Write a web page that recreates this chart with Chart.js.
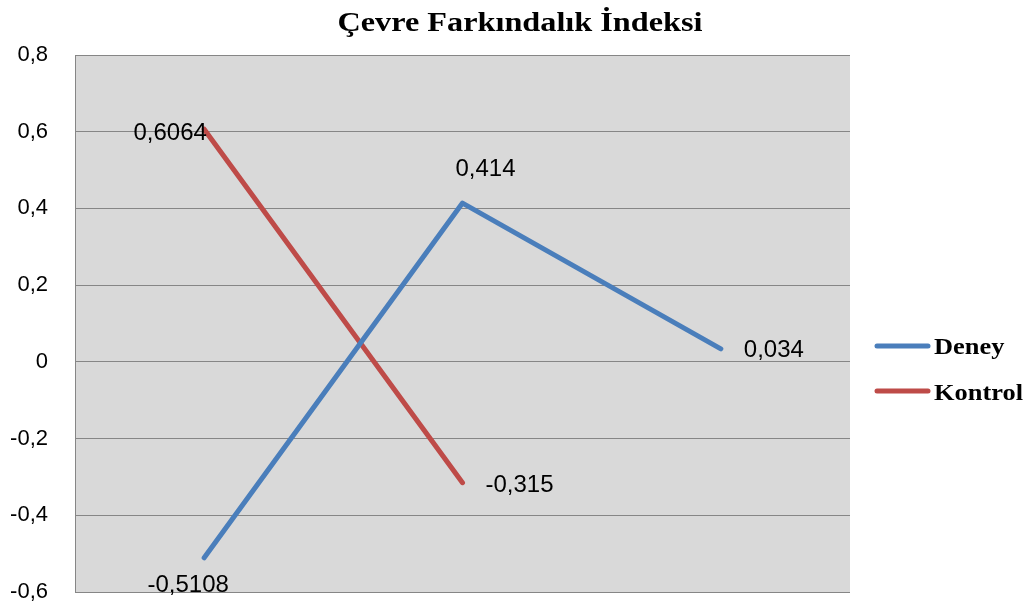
<!DOCTYPE html>
<html><head><meta charset="utf-8">
<script src="https://cdn.jsdelivr.net/npm/chart.js@4/dist/chart.umd.min.js"></script>
<style>html,body{margin:0;padding:0;background:#fff}#wrap{width:1030px;height:607px}</style>
</head><body><div id="wrap"><canvas id="c" width="1030" height="607"></canvas></div>
<script>
const categories = ["1", "2", "3"];
const deney = [-0.5108, 0.414, 0.034];
const kontrol = [0.6064, -0.315, null];
const seriesNames = ["Deney", "Kontrol"];
const yTicks = [-0.6, -0.4, -0.2, 0, 0.2, 0.4, 0.6, 0.8];
const titleText = "Çevre Farkındalık İndeksi";

const colors = ["#4a7ebb", "#be4b48"];
const labelOffsets = [
  [[-16, 28], [23, -34], [53, 2]],
  [[-34, 4], [57, 3], [0, 0]]
];
const fmt = v => String(v).replace('.', ',');

const bgPlugin = {
  id: 'bg',
  beforeDraw(chart) {
    const {ctx, chartArea: a} = chart;
    ctx.save();
    ctx.fillStyle = '#d9d9d9';
    ctx.fillRect(a.left, a.top, a.right - a.left, a.bottom - a.top);
    ctx.restore();
  }
};
const titlePlugin = {
  id: 'ttl',
  afterDraw(chart) {
    const ctx = chart.ctx;
    ctx.save();
    ctx.font = 'bold 28px "Liberation Serif", "Times New Roman", serif';
    ctx.fillStyle = '#000';
    ctx.textAlign = 'center';
    ctx.textBaseline = 'alphabetic';
    const w = ctx.measureText(titleText).width;
    const sx = 365 / w;
    ctx.translate(520, 31);
    ctx.scale(sx, 1);
    ctx.fillText(titleText, 0, 0);
    ctx.restore();
  }
};
const labelPlugin = {
  id: 'lbls',
  afterDatasetsDraw(chart) {
    const ctx = chart.ctx;
    ctx.save();
    ctx.font = '24px "Liberation Sans", Arial, sans-serif';
    ctx.fillStyle = '#000';
    ctx.textAlign = 'center';
    ctx.textBaseline = 'middle';
    chart.data.datasets.forEach((ds, di) => {
      const meta = chart.getDatasetMeta(di);
      meta.data.forEach((pt, i) => {
        const v = ds.data[i];
        if (v === null || v === undefined) return;
        const o = labelOffsets[di][i];
        ctx.fillText(fmt(v), pt.x + o[0], pt.y + o[1]);
      });
    });
    ctx.restore();
  }
};
const legendPlugin = {
  id: 'lgd',
  afterDraw(chart) {
    const ctx = chart.ctx;
    ctx.save();
    const lineYs = [346, 391];
    const textYs = [354, 400];
    chart.data.datasets.forEach((ds, i) => {
      ctx.strokeStyle = ds.borderColor;
      ctx.lineWidth = 5;
      ctx.lineCap = 'round';
      ctx.beginPath();
      ctx.moveTo(877, lineYs[i]);
      ctx.lineTo(928, lineYs[i]);
      ctx.stroke();
      ctx.save();
      ctx.fillStyle = '#000';
      ctx.font = 'bold 24px "Liberation Serif", "Times New Roman", serif';
      ctx.textAlign = 'left';
      ctx.textBaseline = 'alphabetic';
      ctx.translate(934, textYs[i]);
      ctx.scale(1.1, 1);
      ctx.fillText(ds.label, 0, 0);
      ctx.restore();
    });
    ctx.restore();
  }
};

new Chart(document.getElementById('c'), {
  type: 'line',
  data: {
    labels: categories,
    datasets: [
      {label: seriesNames[0], data: deney, borderColor: colors[0], backgroundColor: colors[0], borderWidth: 5, pointRadius: 0, borderCapStyle: 'round', borderJoinStyle: 'round', tension: 0, spanGaps: false},
      {label: seriesNames[1], data: kontrol, borderColor: colors[1], backgroundColor: colors[1], borderWidth: 5, pointRadius: 0, borderCapStyle: 'round', borderJoinStyle: 'round', tension: 0, spanGaps: false}
    ]
  },
  options: {
    responsive: false,
    animation: false,
    devicePixelRatio: 1,
    layout: {padding: {left: 0, right: 180, top: 55, bottom: 15}},
    plugins: {
      legend: {display: false},
      tooltip: {enabled: false},
      title: {display: false}
    },
    scales: {
      x: {
        display: false,
        offset: true
      },
      y: {
        min: -0.6, max: 0.8,
        afterFit(scale) { scale.width = 75; scale.paddingTop = 0; scale.paddingBottom = 0; },
        afterBuildTicks(scale) { scale.ticks = yTicks.map(v => ({value: v})); },
        grid: {color: '#868686', lineWidth: 1, drawTicks: false},
        border: {display: true, color: '#868686', width: 1},
        ticks: {
          padding: 27, color: '#000',
          font: {family: '"Liberation Sans", Arial, sans-serif', size: 22},
          callback: v => fmt(Math.round(v * 10) / 10)
        }
      }
    }
  },
  plugins: [bgPlugin, titlePlugin, labelPlugin, legendPlugin]
});
</script></body></html>
